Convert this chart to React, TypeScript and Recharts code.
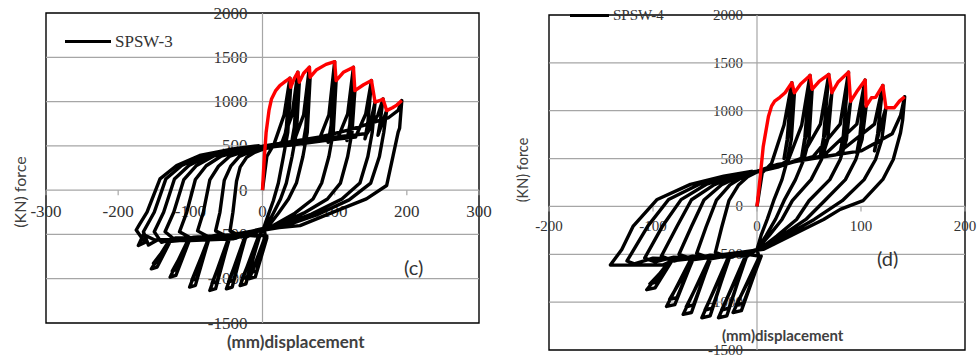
import React from 'react';
import {
  LineChart,
  Line,
  XAxis,
  YAxis,
  ReferenceLine,
  ReferenceDot,
  ReferenceArea
} from 'recharts';

// ---- SPSW-3 (c) : displacement (mm), force (kN) ----
const spsw3Envelope = [
  [0, 0], [2, 300], [5, 650], [9, 900], [12.5, 1030], [18, 1120], [24, 1180], [33, 1237],
  [38, 1264], [39, 1162], [44, 1260], [49, 1332], [51, 1219], [57, 1320], [65, 1388],
  [66, 1275], [75, 1360], [88, 1420], [100, 1451], [102, 1237], [112, 1330], [126, 1388],
  [128, 1124], [140, 1190], [151, 1237], [156, 993], [162, 1010], [167, 1030], [172, 898],
  [180, 930], [186, 960], [193, 1011]
];

const spsw3Loops = [
  // 38 mm
  [0, 0], [6, 380], [16, 520], [30, 850], [38, 1264], [33, 700], [29, 520], [35, 800], [39, 1162],
  [35, 650], [29, 380], [22, 80], [15, -120], [8, -280], [2, -420], [4, -520],
  [-18, -1000], [-10, -980], [6, -540], [-15, -930], [-8, -910], [6, -520],
  [-10, -500], [-30, -520], [-45, -460],
  [-41, -250], [-36, 100], [-31, 260], [-22, 370], [-10, 430], [0, 460], [14, 490],
  // 49 mm
  [27, 540], [41, 850], [49, 1332], [44, 700], [40, 520], [46, 800], [51, 1219], [47, 650], [41, 380],
  [33, 80], [25, -100], [15, -260], [6, -400], [-6, -530],
  [-31, -1077], [-23, -1057], [-5, -540], [-28, -1000], [-21, -980], [-4, -520],
  [-20, -510], [-45, -540], [-65, -460],
  [-59, -250], [-53, 110], [-44, 270], [-32, 380], [-15, 440], [0, 470], [22, 500],
  // 65 mm
  [43, 540], [57, 850], [65, 1388], [60, 700], [56, 520], [62, 800], [66, 1275], [62, 650], [56, 380],
  [47, 80], [36, -100], [22, -260], [9, -400], [-10, -480], [-25, -540],
  [-50, -1114], [-42, -1094], [-24, -540], [-47, -1036], [-40, -1016], [-23, -520],
  [-40, -500], [-70, -550], [-90, -460],
  [-82, -250], [-73, 115], [-61, 270], [-45, 385], [-21, 450], [0, 475], [26, 500],
  // 100 mm
  [78, 560], [92, 850], [100, 1451], [95, 720], [91, 540], [97, 820], [102, 1237], [98, 650], [92, 380],
  [82, 80], [70, -100], [45, -260], [15, -400], [-20, -480], [-47, -540],
  [-73, -1133], [-65, -1113], [-46, -540], [-70, -1054], [-63, -1034], [-45, -520],
  [-65, -510], [-95, -560], [-115, -470],
  [-105, -250], [-93, 120], [-78, 275], [-57, 385], [-26, 455], [0, 480], [40, 510],
  // 126 mm
  [104, 580], [118, 860], [126, 1388], [121, 740], [117, 560], [123, 800], [128, 1124], [124, 650],
  [118, 380], [108, 80], [90, -100], [57, -260], [19, -400], [-30, -490], [-75, -550],
  [-101, -1095], [-93, -1075], [-74, -540], [-98, -1018], [-91, -998], [-73, -520],
  [-95, -530], [-120, -570], [-135, -470],
  [-123, -250], [-109, 120], [-92, 275], [-67, 388], [-31, 460], [0, 485], [50, 530],
  // 151 mm
  [129, 600], [143, 860], [151, 1237], [146, 760], [142, 580], [150, 780], [156, 993], [152, 650],
  [146, 380], [135, 80], [110, -100], [68, -270], [23, -410], [-40, -500], [-103, -560],
  [-128, -982], [-120, -962], [-101, -560], [-125, -913], [-118, -893], [-100, -540],
  [-120, -540], [-140, -590], [-150, -470],
  [-137, -250], [-122, 125], [-102, 278], [-75, 390], [-35, 462], [0, 490], [60, 560],
  // 167 mm
  [145, 640], [160, 850], [167, 1030], [163, 760], [160, 620], [166, 760], [172, 898], [168, 650],
  [162, 380], [150, 80], [120, -110], [75, -280], [25, -420], [-50, -520], [-130, -580],
  [-154, -888], [-146, -868], [-128, -580], [-151, -826], [-144, -806], [-127, -560],
  [-145, -560], [-158, -620], [-165, -470],
  [-150, -250], [-134, 125], [-112, 278], [-82, 390], [-38, 464], [0, 495], [80, 600],
  // 193 mm
  [120, 680], [175, 820], [188, 900], [193, 1011], [190, 700], [188, 655], [181, 390], [172, 52],
  [144, -98], [98, -248], [52, -400], [5, -437], [-41, -550], [-100, -570], [-150, -560], [-165, -500],
  [-172, -625], [-163, -590], [-175, -450], [-170, -380], [-160, -248], [-142, 128], [-119, 278],
  [-87, 391], [-41, 466], [-4, 503]
];

// ---- SPSW-4 (d) ----
const spsw4Envelope = [
  [0, 0], [3, 300], [6, 627], [11, 940], [14, 1048], [17, 1100], [22, 1140], [27, 1188],
  [33.5, 1292], [36, 1188], [42, 1280], [51, 1369], [53, 1223], [60, 1310], [69, 1379],
  [72, 1188], [78, 1300], [88, 1403], [90, 1097], [96, 1200], [104, 1320], [105, 1048],
  [110, 1135], [114, 1140], [121, 1264], [124, 1031], [132, 1031], [137, 1100], [142, 1146]
];

const spsw4Loops = [
  // 33 mm
  [0, 0], [5, 350], [14, 450], [26, 850], [33.5, 1292], [29, 700], [26, 500], [32, 850], [36, 1188],
  [33, 700], [29, 480], [24, 280], [16, 60], [10, -130], [4, -300], [0, -450], [2, -530],
  [-23, -1108], [-15, -1088], [3, -540], [-20, -1030], [-13, -1010], [4, -520],
  [-10, -500], [-28, -530], [-40, -480],
  [-34, -220], [-27, 60], [-18, 220], [-9, 310], [0, 360], [16, 400],
  // 51 mm
  [30, 480], [43, 850], [51, 1369], [46, 720], [43, 520], [49, 850], [53, 1223], [50, 700], [45, 490],
  [37, 280], [26, 60], [18, -130], [9, -300], [0, -450], [-12, -540],
  [-37, -1163], [-29, -1143], [-11, -540], [-34, -1082], [-27, -1062], [-10, -520],
  [-25, -510], [-45, -540], [-58, -490],
  [-49, -215], [-39, 65], [-26, 225], [-13, 312], [0, 362], [20, 410],
  // 69 mm
  [42, 500], [61, 860], [69, 1379], [64, 720], [61, 540], [67, 850], [72, 1188], [68, 700], [62, 490],
  [52, 280], [34, 60], [24, -136], [12, -300], [0, -450], [-28, -540],
  [-53, -1163], [-45, -1143], [-27, -540], [-50, -1082], [-43, -1062], [-26, -520],
  [-45, -510], [-62, -550], [-75, -500],
  [-63, -210], [-51, 68], [-34, 227], [-17, 314], [0, 364], [20, 420],
  // 88 mm
  [54, 520], [80, 860], [88, 1403], [83, 740], [80, 560], [86, 850], [90, 1097], [86, 700], [80, 490],
  [70, 280], [50, 60], [38, -136], [19, -310], [2, -450], [-20, -500], [-46, -550],
  [-71, -1128], [-63, -1108], [-45, -550], [-68, -1049], [-61, -1029], [-44, -530],
  [-62, -520], [-80, -570], [-92, -520],
  [-77, -210], [-63, 70], [-41, 228], [-21, 315], [0, 366], [20, 430],
  // 104 mm
  [64, 530], [96, 860], [104, 1320], [99, 740], [96, 560], [102, 850], [105, 1048], [101, 700], [95, 490],
  [85, 280], [65, 60], [47, -136], [23, -310], [3, -450], [-30, -510], [-64, -560],
  [-87, -1045], [-79, -1025], [-62, -560], [-84, -972], [-77, -952], [-61, -540],
  [-80, -530], [-98, -580], [-108, -540],
  [-91, -208], [-73, 71], [-49, 229], [-25, 316], [0, 367], [20, 440],
  // 121 mm
  [76, 540], [113, 860], [121, 1264], [116, 760], [113, 580], [119, 850], [124, 1031], [120, 700],
  [114, 490], [103, 280], [82, 60], [55, -136], [27, -310], [4, -450], [-35, -510], [-84, -570],
  [-106, -870], [-98, -850], [-82, -570], [-103, -809], [-96, -789], [-81, -550],
  [-100, -540], [-118, -600], [-125, -570],
  [-105, -206], [-85, 72], [-56, 230], [-29, 317], [0, 368], [40, 480],
  // 142 mm
  [100, 580], [130, 760], [138, 950], [142, 1146], [140, 900], [138, 770], [131, 491], [121, 282],
  [102, 60], [80, -31], [64, -136], [32, -310], [6, -449], [-30, -500], [-80, -560], [-90, -610],
  [-141, -613], [-130, -450], [-119, -205], [-96, 73], [-64, 230], [-32, 317], [-4, 369]
];

const spsw3XTicks = [-300, -200, -100, 0, 100, 200, 300];
const spsw4XTicks = [-200, -100, 0, 100, 200];
const yTicks = [2000, 1500, 1000, 500, 0, -500, -1000, -1500];
const gridValues = [1500, 1000, 500, -500, -1000];

const toPoints = (pairs: number[][]) => pairs.map(([x, y]) => ({ x, y }));

const GRID = '#a6a6a6';
const LABEL = '#333';

interface PanelProps {
  loops: number[][];
  envelope: number[][];
  xDomain: [number, number];
  xTicks: number[];
  width: number;
  margin: { top: number; right: number; bottom: number; left: number };
  tickFont: number;
  xLabelDy: number;
  yLabelDx: number;
}

const Panel: React.FC<PanelProps> = ({
  loops,
  envelope,
  xDomain,
  xTicks,
  width,
  margin,
  tickFont,
  xLabelDy,
  yLabelDx
}) => {
  const textStyle = { fontFamily: '"Liberation Serif", serif', fontSize: tickFont, fill: LABEL };
  const under: any = { zIndex: 300 };
  return (
    <LineChart width={width} height={358} margin={margin}>
      <XAxis type="number" dataKey="x" domain={xDomain} hide allowDataOverflow />
      <YAxis type="number" dataKey="y" domain={[-1500, 2000]} hide allowDataOverflow />
      {gridValues.map((v) => (
        <ReferenceLine key={`g${v}`} y={v} stroke={GRID} strokeWidth={1.2} />
      ))}
      <ReferenceLine y={0} stroke={GRID} strokeWidth={1.2} />
      <ReferenceLine x={0} stroke={GRID} strokeWidth={1.2} />
      {xTicks.map((v) => (
        <ReferenceDot
          key={`x${v}`}
          x={v}
          y={0}
          r={0}
          {...under}
          shape={(p: any) => (
            <g>
              <line x1={p.cx} y1={p.cy} x2={p.cx} y2={p.cy + 5} stroke={GRID} strokeWidth={1.2} />
              <text x={p.cx} y={p.cy + xLabelDy} textAnchor="middle" dominantBaseline="central" style={textStyle}>
                {v}
              </text>
            </g>
          )}
        />
      ))}
      {yTicks.map((v) => (
        <ReferenceDot
          key={`y${v}`}
          x={0}
          y={v}
          r={0}
          {...under}
          shape={(p: any) => (
            <text x={p.cx - yLabelDx} y={p.cy} textAnchor="end" dominantBaseline="central" style={textStyle}>
              {v}
            </text>
          )}
        />
      ))}
      <Line
        data={toPoints(loops)}
        dataKey="y"
        type="linear"
        stroke="#000"
        strokeWidth={3.4}
        strokeLinejoin="round"
        dot={false}
        isAnimationActive={false}
      />
      <Line
        data={toPoints(envelope)}
        dataKey="y"
        type="linear"
        stroke="#ff0000"
        strokeWidth={3.4}
        strokeLinejoin="round"
        dot={false}
        isAnimationActive={false}
      />
      <ReferenceArea
        x1={xDomain[0]}
        x2={xDomain[1]}
        y1={-1500}
        y2={2000}
        fill="none"
        fillOpacity={0}
        stroke="#000"
        strokeWidth={1.4}
      />
    </LineChart>
  );
};

const abs = (left: number, top: number): React.CSSProperties => ({ position: 'absolute', left, top });

const App: React.FC = () => (
  <div style={{ position: 'absolute', left: 0, top: 0, width: 979, height: 358, background: '#fff', overflow: 'hidden' }}>
    <div style={abs(0, 0)}>
      <Panel
        loops={spsw3Loops}
        envelope={spsw3Envelope}
        xDomain={[-300, 300]}
        xTicks={spsw3XTicks}
        width={510}
        margin={{ top: 13, right: 31, bottom: 35, left: 46 }}
        tickFont={17}
        xLabelDy={21}
        yLabelDx={15}
      />
    </div>
    <div style={abs(490, 0)}>
      <Panel
        loops={spsw4Loops}
        envelope={spsw4Envelope}
        xDomain={[-200, 200]}
        xTicks={spsw4XTicks}
        width={489}
        margin={{ top: 15, right: 14, bottom: 8, left: 59 }}
        tickFont={15}
        xLabelDy={20}
        yLabelDx={14}
      />
    </div>

    {/* legends */}
    <div style={{ ...abs(65, 40), width: 46, height: 3, background: '#000' }} />
    <div style={{ ...abs(115, 41), transform: 'translateY(-50%)', font: '17px "Liberation Serif", serif', color: LABEL, lineHeight: 1 }}>
      SPSW-3
    </div>
    <div style={{ ...abs(570, 14), width: 39, height: 3, background: '#000' }} />
    <div style={{ ...abs(613, 15), transform: 'translateY(-50%)', font: '15px "Liberation Serif", serif', color: LABEL, lineHeight: 1 }}>
      SPSW-4
    </div>

    {/* axis titles */}
    <div style={{ ...abs(20, 192), transform: 'translate(-50%, -50%) rotate(-90deg)', font: '16px Lato, sans-serif', color: '#404040', whiteSpace: 'nowrap', lineHeight: 1 }}>
      (KN) force
    </div>
    <div style={{ ...abs(523, 170), transform: 'translate(-50%, -50%) rotate(-90deg)', font: '14.5px Lato, sans-serif', color: '#404040', whiteSpace: 'nowrap', lineHeight: 1 }}>
      (KN) force
    </div>
    <div style={{ ...abs(227, 341), transform: 'translateY(-50%)', font: 'bold 17px Lato, sans-serif', color: '#404040', whiteSpace: 'nowrap', lineHeight: 1 }}>
      (mm)displacement
    </div>
    <div style={{ ...abs(722, 335), transform: 'translateY(-50%)', font: 'bold 15px Lato, sans-serif', color: '#404040', whiteSpace: 'nowrap', lineHeight: 1 }}>
      (mm)displacement
    </div>

    {/* panel tags */}
    <div style={{ ...abs(404, 267), transform: 'translateY(-50%)', font: '20px Lato, sans-serif', color: '#333', lineHeight: 1 }}>
      (c)
    </div>
    <div style={{ ...abs(877, 258), transform: 'translateY(-50%)', font: '20px Lato, sans-serif', color: '#333', lineHeight: 1 }}>
      (d)
    </div>
  </div>
);

export default App;
